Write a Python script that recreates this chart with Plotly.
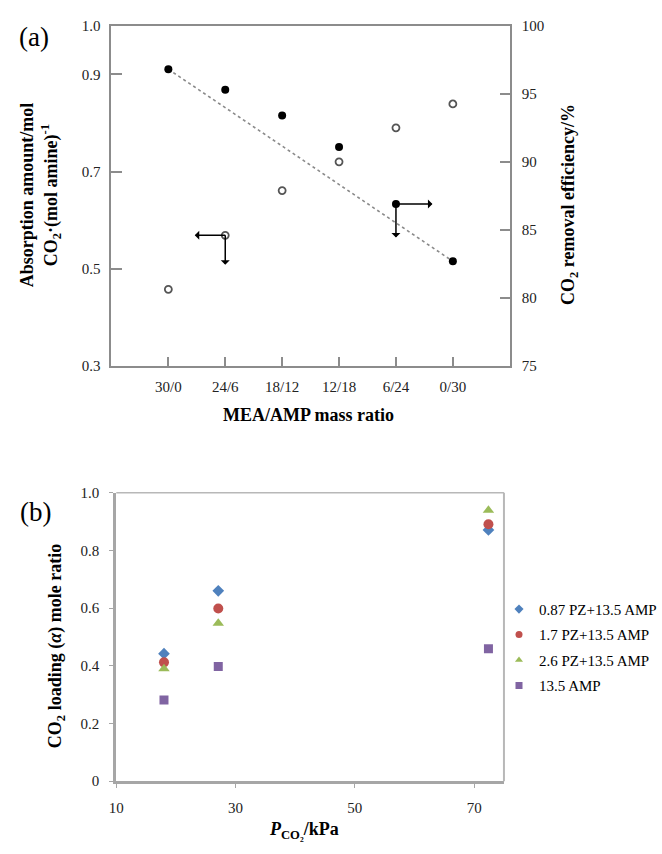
import plotly.graph_objects as go

W, H = 662, 854
def px(x): return x / W
def py(y): return 1 - y / H

# ---------- Panel (a) data ----------
ratios = ["30/0", "24/6", "18/12", "12/18", "6/24", "0/30"]
absorption = [0.458, 0.569, 0.661, 0.720, 0.790, 0.839]       # open circles, left axis
efficiency = [96.8, 95.3, 93.4, 91.1, 86.9, 82.7]             # filled circles, right axis
left_ticks = [0.3, 0.5, 0.7, 0.9, 1.0]
left_ticktext = ["0.3", "0.5", "0.7", "0.9", "1.0"]
right_ticks = [75, 80, 85, 90, 95, 100]

# ---------- Panel (b) data ----------
pco2 = [18.0, 27.1, 72.4]
series_names = ["0.87 PZ+13.5 AMP", "1.7 PZ+13.5 AMP", "2.6 PZ+13.5 AMP", "13.5 AMP"]
pz087 = [0.442, 0.660, 0.871]
pz17 = [0.412, 0.599, 0.891]
pz26 = [0.390, 0.548, 0.939]
amp = [0.282, 0.398, 0.459]
b_xticks = [10, 30, 50, 70]
b_yticks = [0, 0.2, 0.4, 0.6, 0.8, 1.0]
b_yticktext = ["0", "0.2", "0.4", "0.6", "0.8", "1.0"]

SERIF = "Liberation Serif"
TICKC = "#222222"
AXC = "#8c8c8c"

fig = go.Figure()

# (a) trend line (dotted, first to last point)
fig.add_trace(go.Scatter(x=[ratios[0], ratios[-1]], y=[efficiency[0], efficiency[-1]],
                         mode="lines", line=dict(color="#8a8a8a", width=1.6, dash="dot"),
                         xaxis="x", yaxis="y2", showlegend=False, hoverinfo="skip"))
fig.add_trace(go.Scatter(x=ratios, y=absorption, mode="markers",
                         marker=dict(symbol="circle-open", size=7, color="#555555",
                                     line=dict(width=1.8, color="#555555")),
                         xaxis="x", yaxis="y", showlegend=False))
fig.add_trace(go.Scatter(x=ratios, y=efficiency, mode="markers",
                         marker=dict(symbol="circle", size=8, color="black"),
                         xaxis="x", yaxis="y2", showlegend=False))

# (b) series
b_series = [pz087, pz17, pz26, amp]
b_colors = ["#4f81bd", "#c0504d", "#9bbb59", "#8064a2"]
b_symbols = ["diamond", "circle", "triangle-up", "square"]
b_sizes = [9, 10, 10, 9]
for i, (name, ys, c, s, sz) in enumerate(zip(series_names, b_series, b_colors, b_symbols, b_sizes)):
    fig.add_trace(go.Scatter(x=pco2, y=ys, mode="markers", name=name, legendgroup=f"g{i}",
                             marker=dict(symbol=s, size=sz, color=c), showlegend=False,
                             xaxis="x2", yaxis="y3"))
    # legend entry with the smaller symbol used in the reference legend
    fig.add_trace(go.Scatter(x=[None], y=[None], mode="markers", name=name, legendgroup=f"g{i}",
                             marker=dict(symbol=s, size=7, color=c), showlegend=True,
                             xaxis="x2", yaxis="y3", hoverinfo="skip"))

tickfont = dict(family=SERIF, size=15, color=TICKC)

fig.update_layout(
    width=W, height=H,
    margin=dict(l=0, r=0, t=0, b=0),
    paper_bgcolor="white", plot_bgcolor="white",
    font=dict(family=SERIF, color="black"),
    xaxis=dict(domain=[px(107), px(519)], anchor="y", type="category",
               categoryorder="array", categoryarray=ratios,
               range=[-1, 6], showline=True, linecolor=AXC, linewidth=2,
               mirror=True, ticks="inside", ticklen=9, tickcolor=AXC, tickwidth=1.5,
               tickfont=tickfont, ticklabelstandoff=6, showgrid=False, zeroline=False),
    yaxis=dict(domain=[py(365), py(18)], anchor="x", range=[0.3, 1.0],
               tickvals=left_ticks, ticktext=left_ticktext,
               showline=True, linecolor=AXC, linewidth=2,
               ticks="inside", ticklen=11, tickcolor=AXC, tickwidth=1.5,
               tickfont=tickfont, ticklabelstandoff=6, showgrid=False, zeroline=False),
    yaxis2=dict(overlaying="y", side="right", anchor="x", range=[75, 100],
                tickvals=right_ticks, showline=True, linecolor=AXC, linewidth=2,
                ticks="inside", ticklen=10, tickcolor=AXC, tickwidth=1.5,
                tickfont=tickfont, ticklabelstandoff=7, showgrid=False, zeroline=False),
    xaxis2=dict(domain=[px(112), px(513)], anchor="y3", range=[10, 75],
                tickvals=b_xticks, showline=True, linecolor="#a6a6a6", linewidth=3,
                mirror=False, ticks="outside", ticklen=4, tickcolor="#a6a6a6",
                tickfont=tickfont, ticklabelstandoff=7, showgrid=False, zeroline=False),
    yaxis3=dict(domain=[py(788), py(494)], anchor="x2", range=[0, 1.0],
                tickvals=b_yticks, ticktext=b_yticktext,
                showline=True, linecolor="#a6a6a6", linewidth=3,
                ticks="outside", ticklen=4, tickcolor="#a6a6a6",
                tickfont=tickfont, ticklabelstandoff=7, showgrid=False, zeroline=False),
    legend=dict(x=px(508), y=py(596), xanchor="left", yanchor="top",
                font=dict(family=SERIF, size=15, color="black"),
                bgcolor="rgba(0,0,0,0)", traceorder="grouped", tracegroupgap=3,
                itemwidth=30),
    showlegend=True,
)

# light border for panel (b) top and right
fig.add_shape(type="line", xref="paper", yref="paper", x0=px(112), x1=px(513),
              y0=py(494), y1=py(494), line=dict(color="#b8b8b8", width=1.5))
fig.add_shape(type="line", xref="paper", yref="paper", x0=px(513), x1=px(513),
              y0=py(494), y1=py(788), line=dict(color="#b8b8b8", width=2))

annos = []
def title(text, x, y, size=18, angle=0):
    annos.append(dict(text=text, x=px(x), y=py(y), xref="paper", yref="paper",
                      showarrow=False, textangle=angle, xanchor="center", yanchor="middle",
                      font=dict(family=SERIF, size=size, color="black")))

title("(a)", 27, 30, size=27)
title("(b)", 28, 514, size=27)
title("<b>Absorption amount/mol<br>CO<sub>2</sub>·(mol amine)<sup>-1</sup></b>", 34, 190, angle=-90)
title("<b>CO<sub>2</sub> removal efficiency/%</b>", 581, 200, angle=-90)
title("<b>MEA/AMP mass ratio</b>", 311, 415)
title("<b>CO<sub>2</sub> loading (<i>α</i>) mole ratio</b>", 51, 650, angle=-90)
title("<b><i>P</i><sub>CO₂</sub>/kPa</b>", 306, 838)

# arrows (anchored on data points)
arrow = dict(showarrow=True, text="", arrowside="start", arrowhead=2, arrowsize=1,
             arrowwidth=1.5, arrowcolor="black", axref="pixel", ayref="pixel",
             standoff=0, startstandoff=0)
annos.append(dict(arrow, x=ratios[1], y=absorption[1], xref="x", yref="y", ax=-32, ay=0))
annos.append(dict(arrow, x=ratios[1], y=absorption[1], xref="x", yref="y", ax=0, ay=31))
annos.append(dict(arrow, x=ratios[4], y=efficiency[4], xref="x", yref="y2", ax=38, ay=0))
annos.append(dict(arrow, x=ratios[4], y=efficiency[4], xref="x", yref="y2", ax=0, ay=35))

fig.update_layout(annotations=annos)
fig.write_html("out.html")
